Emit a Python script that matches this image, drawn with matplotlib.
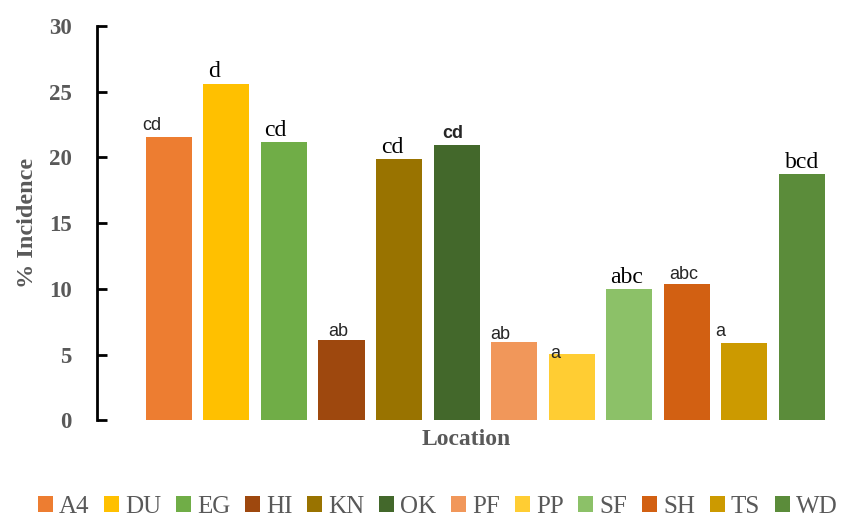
import matplotlib
matplotlib.use("Agg")
import matplotlib.pyplot as plt
from matplotlib.patches import Patch

# data
locations = ["A4", "DU", "EG", "HI", "KN", "OK", "PF", "PP", "SF", "SH", "TS", "WD"]
incidence = [21.55, 25.6, 21.2, 6.1, 19.9, 20.95, 5.95, 5.05, 10.0, 10.35, 5.9, 18.75]
letters = ["cd", "d", "cd", "ab", "cd", "cd", "ab", "a", "abc", "abc", "a", "bcd"]
colors = ["#ED7D31", "#FFC000", "#70AD47", "#9E480E", "#997300", "#43682B",
          "#F1975A", "#FFCD33", "#8CC168", "#D26012", "#CC9A00", "#5B8C3A"]
# letter fonts vary in the original (some sans, one bold sans)
letter_fonts = ["sans", "serif", "serif", "sans", "serif", "sansbold",
                "sans", "sans", "serif", "sans", "sans", "serif"]
# hand placed text boxes in the original: small nudges in points
label_dx = [-12, -9, -6, -2, -5, -3, -10, -12, -2, -2, -17, 0]
label_dy = [5, 5, 4, 3, 4, 5, 2, -3, 4, 4, 5, 4]

serif = "Liberation Serif"
sans = "Liberation Sans"
grey = "#595959"

fig = plt.figure(figsize=(8.5, 5.22), dpi=100)
ax = fig.add_axes([0.114, 0.195, 0.87, 0.755])

x = range(len(locations))
bars = ax.bar(x, incidence, width=0.8, color=colors)

for b, lab, f, dx, dy in zip(bars, letters, letter_fonts, label_dx, label_dy):
    cx = b.get_x() + b.get_width() / 2
    top = b.get_height()
    if f == "serif":
        kw = dict(fontsize=17, family=serif, color="black")
    else:
        kw = dict(fontsize=13, family=sans, color="#262626",
                  fontweight="bold" if f == "sansbold" else "normal")
    ax.annotate(lab, (cx, top), xytext=(dx, dy), textcoords="offset points",
                ha="center", va="baseline", **kw)

ax.set_ylim(0, 30)
ax.set_xlim(-1.25, 11.6)
ax.set_yticks([0, 5, 10, 15, 20, 25, 30])
ax.set_xticks([])
for s in ["top", "right", "bottom"]:
    ax.spines[s].set_visible(False)
ax.spines["left"].set_linewidth(2)
ax.tick_params(axis="y", direction="in", length=7, width=2, pad=18)
for t in ax.get_yticklabels():
    t.set_family(serif)
    t.set_fontweight("bold")
    t.set_fontsize(16.5)
    t.set_color(grey)

ax.set_ylabel("% Incidence", family=serif, fontweight="bold", fontsize=17.5,
              color=grey, labelpad=8)
ax.set_xlabel("Location", family=serif, fontweight="bold", fontsize=17,
              color=grey, labelpad=6)

handles = [Patch(facecolor=c, label=l) for c, l in zip(colors, locations)]
fig.legend(handles=handles, loc="lower center", bbox_to_anchor=(0.515, 0.003),
           ncol=12, frameon=False, handlelength=0.6, handleheight=0.6,
           handletextpad=0.25, columnspacing=0.58, borderaxespad=0,
           borderpad=0.1, prop={"family": serif, "size": 18}, labelcolor=grey)

fig.savefig("out.png", dpi=100)
